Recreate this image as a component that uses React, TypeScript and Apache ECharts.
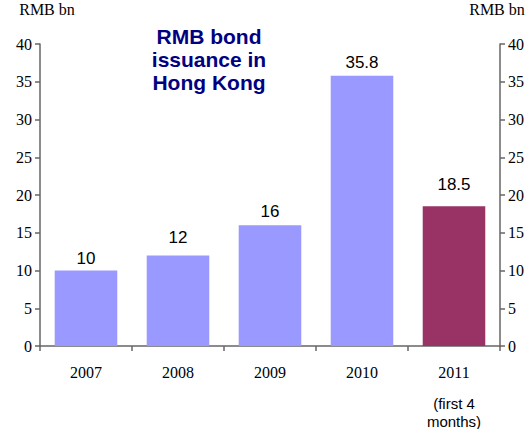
import React, { useEffect, useRef } from "react";
import * as echarts from "echarts";

const categories = ["2007", "2008", "2009", "2010", "2011"];
const values = [10, 12, 16, 35.8, 18.5];
const barColors = ["#9999FF", "#9999FF", "#9999FF", "#9999FF", "#993366"];
const labelDistances = [4, 9, 5, 5, 13];
const yTicks = { min: 0, max: 40, interval: 5 };
const axisName = "RMB bn";
const titleLines = ["RMB bond", "issuance in", "Hong Kong"];
const noteLines = ["(first 4", "months)"];

export default function App() {
  const ref = useRef<HTMLDivElement>(null);
  useEffect(() => {
    if (!ref.current) return;
    document.body.style.margin = "0";
    const chart = echarts.init(ref.current, null, { renderer: "svg" });
    const axisColor = "#666666";
    const serif = "Liberation Serif";
    const yAxisBase = {
      type: "value",
      min: yTicks.min,
      max: yTicks.max,
      interval: yTicks.interval,
      splitLine: { show: false },
      axisLine: { show: true, lineStyle: { color: axisColor, width: 1.5 } },
      axisTick: { show: true, length: 5, lineStyle: { color: axisColor, width: 1.5 } },
      axisLabel: { color: "#000", fontFamily: serif, fontSize: 16, margin: 8 },
      name: axisName,
      nameLocation: "end",
      nameGap: 27,
    };
    chart.setOption({
      animation: false,
      grid: {
        left: 40,
        right: 32,
        top: 44,
        bottom: 83,
        containLabel: false,
        outerBoundsMode: "none",
      },
      xAxis: {
        type: "category",
        data: categories,
        boundaryGap: true,
        axisLine: { lineStyle: { color: axisColor, width: 1.5 } },
        axisTick: { show: true, length: 5, alignWithLabel: false, lineStyle: { color: axisColor, width: 1.5 } },
        axisLabel: {
          margin: 4,
          verticalAlign: "top",
          formatter: (v: string, i: number) =>
            i === categories.length - 1
              ? `{a|${v}}\n{b|${noteLines[0]}}\n{b|${noteLines[1]}}`
              : `{a|${v}}`,
          rich: {
            a: { fontFamily: serif, fontSize: 16, color: "#000", lineHeight: 44 },
            b: { fontFamily: "Liberation Sans", fontSize: 15, color: "#000", lineHeight: 18 },
          },
        },
      },
      yAxis: [
        {
          ...yAxisBase,
          position: "left",
          nameTextStyle: { fontFamily: serif, fontSize: 16, color: "#000", align: "center", padding: [0, 0, 0, 14] },
        },
        {
          ...yAxisBase,
          position: "right",
          nameTextStyle: { fontFamily: serif, fontSize: 16, color: "#000", align: "center", padding: [0, 6, 0, 0] },
        },
      ],
      series: [
        {
          type: "bar",
          yAxisIndex: 0,
          barCategoryGap: "32%",
          data: values.map((v, i) => ({
            value: v,
            itemStyle: { color: barColors[i] },
            label: { distance: labelDistances[i] },
          })),
          label: {
            show: true,
            position: "top",
            fontFamily: "Liberation Sans",
            fontSize: 17,
            color: "#000",
          },
        },
      ],
      graphic: [
        {
          type: "text",
          x: 209,
          y: 25,
          style: {
            text: titleLines.join("\n"),
            align: "center",
            verticalAlign: "top",
            fontFamily: "Liberation Sans",
            fontWeight: "bold",
            fontSize: 21,
            lineHeight: 23,
            fill: "#000080",
          },
        },
      ],
    });
    return () => chart.dispose();
  }, []);
  return <div ref={ref} style={{ width: 532, height: 429 }} />;
}
